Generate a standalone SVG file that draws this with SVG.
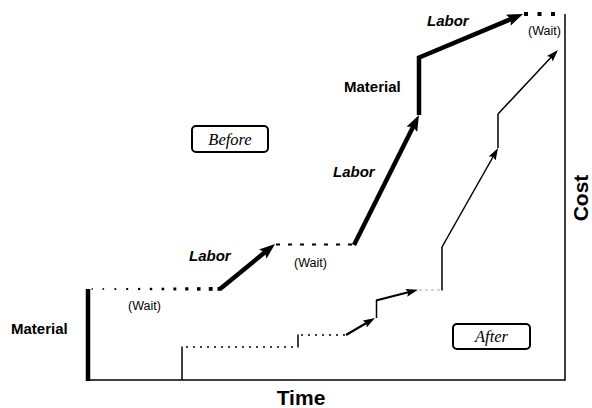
<svg xmlns="http://www.w3.org/2000/svg" width="592" height="408" viewBox="0 0 592 408">
<style>
.lbl{font-family:"Liberation Sans",Arial,sans-serif;font-weight:bold;font-size:15px;fill:#000}
.lab{font-family:"Liberation Sans",Arial,sans-serif;font-weight:bold;font-style:italic;font-size:15px;fill:#000}
.wait{font-family:"Liberation Sans",Arial,sans-serif;font-size:12.5px;fill:#000}
.ax{font-family:"Liberation Sans",Arial,sans-serif;font-weight:bold;font-size:21px;fill:#000}
.tag{font-family:"Liberation Serif","Times New Roman",serif;font-style:italic;font-size:16.5px;fill:#000}
.thick{stroke:#000;stroke-width:4.5;fill:none}
.thin{stroke:#000;stroke-width:1.5;fill:none}
.med{stroke:#000;stroke-width:2.2;fill:none}
.box{fill:#fff;stroke:#000;stroke-width:2}
</style>
<defs>
<marker id="big" markerUnits="userSpaceOnUse" viewBox="0 0 16 12" markerWidth="16" markerHeight="12" refX="6" refY="6" orient="auto">
<path d="M0,0 L16,6 L0,12 L3,6 z" fill="#000"/>
</marker>
<marker id="small" markerUnits="userSpaceOnUse" viewBox="0 0 12 8" markerWidth="12" markerHeight="8" refX="4" refY="4" orient="auto">
<path d="M0,0 L12,4 L0,8 L2,4 z" fill="#000"/>
</marker>
</defs>
<g id="axes">
<line class="thin" x1="88" y1="380" x2="565" y2="380"/>
<line class="thin" x1="565" y1="14" x2="565" y2="380.75"/>
<text class="ax" x="301" y="405" text-anchor="middle">Time</text>
<text class="ax" transform="translate(588,198) rotate(-90)" text-anchor="middle">Cost</text>
</g>
<g id="connectors">
<!-- Before path -->
<line class="thick" x1="88" y1="381" x2="88" y2="289"/>
<g id="wait1" fill="#000">
<rect x="91.5" y="288.3" width="1.4" height="1.4"/>
<rect x="102.5" y="288.2" width="1.6" height="1.6"/>
<rect x="114.4" y="288.1" width="1.8" height="1.8"/>
<rect x="126.2" y="288" width="2" height="2"/>
<rect x="138" y="287.9" width="2.2" height="2.2"/>
<rect x="149.8" y="287.8" width="2.4" height="2.4"/>
<rect x="161.6" y="287.7" width="2.6" height="2.6"/>
<rect x="173.4" y="287.5" width="2.9" height="2.9"/>
<rect x="185.2" y="287.3" width="3.2" height="3.2"/>
<rect x="197" y="287.2" width="3.5" height="3.5"/>
<rect x="208.8" y="287" width="3.8" height="3.8"/>
<rect x="217.5" y="287" width="3.8" height="3.8"/>
</g>
<line class="thick" x1="220" y1="289" x2="267.3" y2="250.3" marker-end="url(#big)"/>
<line stroke="#000" stroke-width="2" stroke-dasharray="4 8" x1="276" y1="244.5" x2="354" y2="244.5"/>
<line class="thick" x1="354" y1="245" x2="414.5" y2="124" marker-end="url(#big)"/>
<line class="thick" x1="419" y1="115" x2="419" y2="56"/>
<line class="thick" x1="418" y1="58" x2="513.8" y2="17.9" marker-end="url(#big)"/>
<g id="wait3" fill="#000">
<rect x="524" y="12" width="4" height="4"/>
<rect x="537.5" y="12" width="4" height="4"/>
<rect x="551" y="12" width="4" height="4"/>
</g>
<!-- After path -->
<line class="thin" x1="182" y1="380" x2="182" y2="346.5"/>
<line stroke="#000" stroke-width="1.6" stroke-dasharray="2 5" x1="186" y1="347" x2="298" y2="347"/>
<line class="thin" x1="298" y1="347.5" x2="298" y2="334.5"/>
<line stroke="#000" stroke-width="1.6" stroke-dasharray="2 5" x1="301" y1="335" x2="346" y2="335"/>
<line class="med" x1="346" y1="335" x2="368.1" y2="322" marker-end="url(#small)"/>
<line class="thin" x1="376.5" y1="318" x2="376.5" y2="300"/>
<line class="med" x1="376" y1="300.5" x2="410.2" y2="291.8" marker-end="url(#small)"/>
<line stroke="#aaa" stroke-width="1.2" stroke-dasharray="3 3" x1="419" y1="290" x2="442" y2="290"/>
<line class="thin" x1="442" y1="290.5" x2="442" y2="247"/>
<line class="thin" x1="442" y1="247" x2="494.1" y2="155" marker-end="url(#small)"/>
<line class="thin" x1="498" y1="148" x2="498" y2="114"/>
<line class="thin" x1="498" y1="114" x2="552.5" y2="55.8" marker-end="url(#small)"/>
</g>
<g id="labels">
<text class="lbl" x="11" y="334">Material</text>
<text class="lbl" x="344" y="92">Material</text>
<text class="lab" x="189" y="261">Labor</text>
<text class="lab" x="333" y="177">Labor</text>
<text class="lab" x="427" y="26">Labor</text>
<text class="wait" x="128" y="310">(Wait)</text>
<text class="wait" x="294" y="267">(Wait)</text>
<text class="wait" x="528" y="35">(Wait)</text>
</g>
<g id="before">
<rect class="box" x="192" y="126" width="76" height="26" rx="4"/>
<text class="tag" x="230" y="144.5" text-anchor="middle">Before</text>
</g>
<g id="after">
<rect class="box" x="453" y="324" width="77" height="25" rx="4"/>
<text class="tag" x="491.5" y="342" text-anchor="middle">After</text>
</g>
</svg>
